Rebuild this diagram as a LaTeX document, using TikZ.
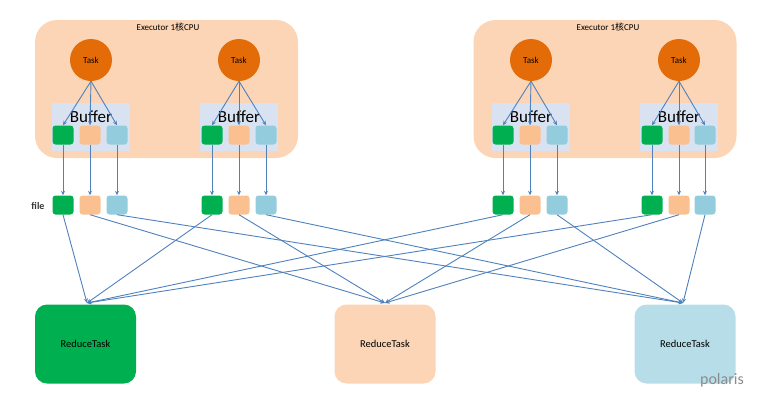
\documentclass[tikz,border=0pt]{standalone}
\usepackage{fontspec}
\setmainfont{Carlito}
\newfontfamily\cjk{Noto Sans CJK SC}
\usetikzlibrary{arrows.meta}
\definecolor{exbg}{HTML}{FBD5B5}
\definecolor{taskc}{HTML}{E36C09}
\definecolor{bufbg}{HTML}{D9E2F0}
\definecolor{gr}{HTML}{00B050}
\definecolor{pe}{HTML}{FAC090}
\definecolor{cy}{HTML}{93CDDD}
\definecolor{cyl}{HTML}{B7DDE8}
\definecolor{pel}{HTML}{FBD5B5}
\definecolor{arr}{HTML}{4F81BD}
\tikzset{
  exbox/.style={fill=exbg, rounded corners=22pt, minimum width=263pt, minimum height=138pt, inner sep=0},
  taskn/.style={circle, fill=taskc, minimum size=42pt, inner sep=0, font=\fontsize{9}{10}\selectfont},
  bufbox/.style={fill=bufbg, minimum width=78pt, minimum height=48pt, inner sep=0},
  sq/.style={rounded corners=3pt, minimum width=21pt, minimum height=19pt, inner sep=0},
  redbox/.style={rounded corners=12pt, minimum width=101pt, minimum height=79pt, inner sep=0, font=\fontsize{10.5}{12}\selectfont},
  con/.style={draw=arr, line width=0.9pt, -{Stealth[length=4.5pt,width=4pt]}},
}
\begin{document}
\begin{tikzpicture}[x=1pt,y=-1pt]
\useasboundingbox (0,0) rectangle (766,402);
% executors
\node[exbox] (ex1) at (166.5,89) {};
\node[exbox] (ex2) at (605,89) {};
\node[font=\fontsize{9}{10}\selectfont] (ext1) at (168,27) {Executor 1{\cjk 核}CPU};
\node[font=\fontsize{9}{10}\selectfont] (ext2) at (608,27) {Executor 1{\cjk 核}CPU};
% tasks
\node[taskn] (t1) at (91,60) {Task};
\node[taskn] (t2) at (239,60) {Task};
\node[taskn] (t3) at (531,60) {Task};
\node[taskn] (t4) at (679,60) {Task};
% buffers
\foreach \i/\x in {1/91,2/239,3/531,4/679}{
  \node[bufbox] (buf\i) at (\x,127) {};
  \node[font=\fontsize{17}{19}\selectfont] (buft\i) at (\x,117) {Buffer};
}
% squares
\foreach \i/\a/\b/\c in {1/63/90/117,2/212/239/266,3/503/530/557,4/652/679/705}{
  \node[sq, fill=gr] (b\i g) at (\a,135) {};
  \node[sq, fill=pe] (b\i p) at (\b,135) {};
  \node[sq, fill=cy] (b\i c) at (\c,135) {};
  \node[sq, fill=gr] (f\i g) at (\a,205) {};
  \node[sq, fill=pe] (f\i p) at (\b,205) {};
  \node[sq, fill=cy] (f\i c) at (\c,205) {};
  \draw[con] (t\i.south) -- (b\i g.north);
  \draw[con] (t\i.south) -- (b\i p.north);
  \draw[con] (t\i.south) -- (b\i c.north);
  \draw[con] (b\i g.south) -- (f\i g.north);
  \draw[con] (b\i p.south) -- (f\i p.north);
  \draw[con] (b\i c.south) -- (f\i c.north);
}
\node[font=\bfseries\fontsize{10}{11}\selectfont, text=black!80] (filel) at (38,206) {file};
% reduce tasks
\node[redbox, fill=gr] (rg) at (85.5,344) {ReduceTask};
\node[redbox, fill=pel] (rp) at (385,344) {ReduceTask};
\node[redbox, fill=cyl] (rc) at (685,344) {ReduceTask};
\coordinate (rgt) at (87,303);
\coordinate (rpt) at (385,303);
\coordinate (rct) at (683,303);
\foreach \i in {1,2,3,4}{
  \draw[con] (f\i g.south) -- (rgt);
  \draw[con] (f\i p.south) -- (rpt);
  \draw[con] (f\i c.south) -- (rct);
}
\node[font=\fontsize{16}{17}\selectfont, text=black!45] (wm) at (722,380) {polaris};
\end{tikzpicture}
\end{document}
